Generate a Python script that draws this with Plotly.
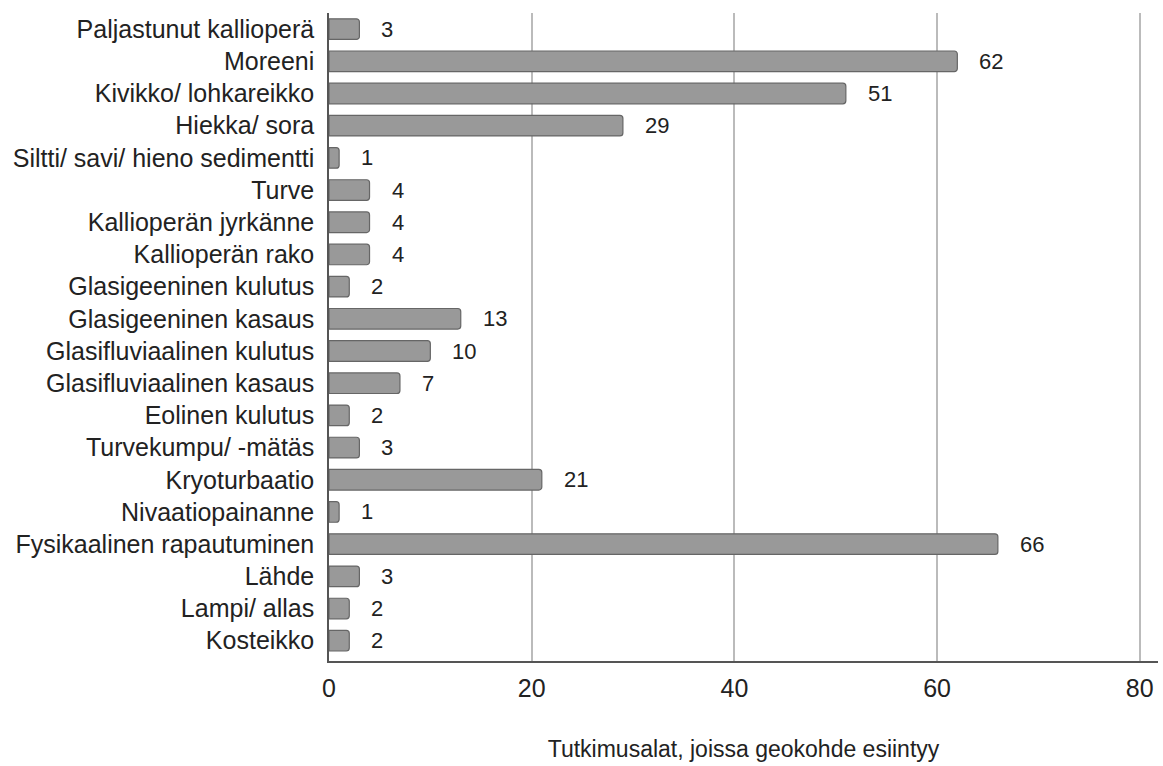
import plotly.graph_objects as go

categories = [
    "Paljastunut kallioperä", "Moreeni", "Kivikko/ lohkareikko", "Hiekka/ sora",
    "Siltti/ savi/ hieno sedimentti", "Turve", "Kallioperän jyrkänne", "Kallioperän rako",
    "Glasigeeninen kulutus", "Glasigeeninen kasaus", "Glasifluviaalinen kulutus",
    "Glasifluviaalinen kasaus", "Eolinen kulutus", "Turvekumpu/ -mätäs", "Kryoturbaatio",
    "Nivaatiopainanne", "Fysikaalinen rapautuminen", "Lähde", "Lampi/ allas", "Kosteikko",
]
counts = [3, 62, 51, 29, 1, 4, 4, 4, 2, 13, 10, 7, 2, 3, 21, 1, 66, 3, 2, 2]
x_ticks = [0, 20, 40, 60, 80]
x_title = "Tutkimusalat, joissa geokohde esiintyy"

font_family = "Liberation Sans, Arial, sans-serif"
text_color = "#222222"

fig = go.Figure(
    go.Bar(
        x=counts,
        y=categories,
        orientation="h",
        marker=dict(color="#999999", line=dict(color="#666666", width=1.2)),
        hoverinfo="x+y",
    )
)

# value labels to the right of each bar
for cat, val in zip(categories, counts):
    fig.add_annotation(
        x=val, y=cat, text=str(val), showarrow=False,
        xanchor="left", xshift=20,
        font=dict(family=font_family, size=22, color=text_color),
    )

fig.update_layout(
    width=1163, height=766,
    margin=dict(l=329, r=5, t=13, b=105),
    paper_bgcolor="white", plot_bgcolor="white",
    bargap=0.36, barcornerradius=3,
    showlegend=False,
    font=dict(family=font_family, size=21, color=text_color),
)

fig.update_xaxes(
    range=[0, 81.8], tickvals=x_ticks, ticktext=[str(t) for t in x_ticks],
    showgrid=True, gridcolor="#bbbbbb", gridwidth=1.5,
    zeroline=False, showline=True, linecolor="#555555", linewidth=2,
    ticks="", ticklabelstandoff=4,
    title=dict(text=x_title, standoff=40, font=dict(size=23)),
    tickfont=dict(size=25),
)
fig.update_yaxes(
    categoryorder="array", categoryarray=categories, range=[19.63, -0.5],
    showline=True, linecolor="#555555", linewidth=1.5, showgrid=False,
    ticks="", ticklabelstandoff=8, tickfont=dict(size=25),
)

fig.write_html("out.html")
